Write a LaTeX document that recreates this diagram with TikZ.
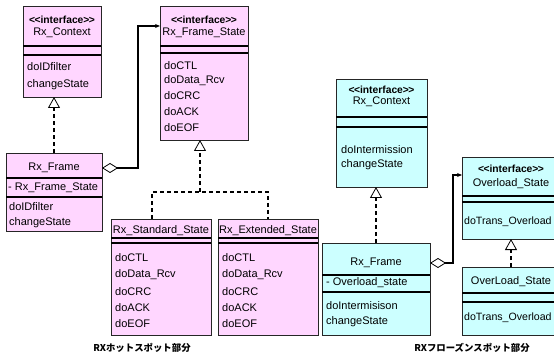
\documentclass[tikz,border=0pt]{standalone}
\usepackage{fontspec}
\setmainfont{Liberation Sans}
\newfontfamily\cjk{Noto Sans CJK JP}
\usetikzlibrary{arrows.meta}
\definecolor{pinkfill}{RGB}{255,214,255}
\definecolor{cyanfill}{RGB}{204,255,255}
\newcommand{\stereotxt}{{<}\kern-0.5pt{<}interface{>}\kern-0.5pt{>}}
\tikzset{
  cls/.style={draw=black!85, line width=0.8pt, anchor=north west, inner sep=0pt, outer sep=0pt},
  pinkcls/.style={cls, fill=pinkfill},
  cyancls/.style={cls, fill=cyanfill},
  sepline/.style={draw=black, line width=1.1pt},
  ttl/.style={font=\fontsize{11}{12}\selectfont, inner sep=0pt, anchor=center},
  stereo/.style={font=\bfseries\fontsize{10.3}{12}\selectfont, inner sep=0pt, anchor=center},
  op/.style={font=\fontsize{11}{12}\selectfont, inner sep=0pt, anchor=west},
  opsmall/.style={font=\fontsize{10.6}{12}\selectfont, inner sep=0pt, anchor=west},
  realize/.style={line width=1.6pt, dash pattern=on 4pt off 3pt,
    -{Triangle[open, length=11pt, width=12pt, line width=0.8pt]}},
  aggr/.style={line width=1.6pt,
    {Diamond[open, length=16pt, width=10pt, line width=0.8pt, fill=white]}-{Stealth[length=5pt, width=4pt]}},
  partlabel/.style={font=\cjk\bfseries\fontsize{9.4}{10}\selectfont, inner sep=0pt}
}
\begin{document}
\begin{tikzpicture}[x=1pt, y=-1pt]
\useasboundingbox (0,0) rectangle (554,358);
\clip (0,0) rectangle (554,358);
\fill[white] (0,0) rectangle (554,358);

% ---------- left (pink) ----------
% Rx_Context interface
\node[pinkcls, minimum width=78pt, minimum height=91pt] (pc) at (23,6) {};
\draw[sepline] (23,46) -- (101,46);
\draw[sepline] (23,55) -- (101,55);
\node[stereo] (pc1) at (62,20) {\stereotxt};
\node[ttl] (pc2) at (62,33) {Rx\_Context};
\node[op] (pc3) at (27,67) {doIDfilter};
\node[op] (pc4) at (27,85) {changeState};

% Rx_Frame_State interface
\node[pinkcls, minimum width=88pt, minimum height=134pt] (fs) at (160,6) {};
\draw[sepline] (160,46) -- (248,46);
\draw[sepline] (160,53) -- (248,53);
\node[stereo] (fs1) at (204,20) {\stereotxt};
\node[ttl] (fs2) at (204,33) {Rx\_Frame\_State};
\node[op] (fs3) at (164,66) {doCTL};
\node[op] (fs4) at (164,81) {doData\_Rcv};
\node[op] (fs5) at (164,96) {doCRC};
\node[op] (fs6) at (164,112) {doACK};
\node[op] (fs7) at (164,128) {doEOF};

% Rx_Frame
\node[pinkcls, minimum width=96pt, minimum height=78pt] (pf) at (6,153) {};
\draw[sepline] (6,178) -- (102,178);
\draw[sepline] (6,197) -- (102,197);
\node[ttl] (pf1) at (54,168) {Rx\_Frame};
\node[op] (pf2) at (8,188) {- Rx\_Frame\_State};
\node[op] (pf3) at (9,207) {doIDfilter};
\node[op] (pf4) at (9,223) {changeState};

% Rx_Standard_State
\node[pinkcls, minimum width=100pt, minimum height=116pt] (ss) at (111,219) {};
\draw[sepline] (111,238) -- (211,238);
\draw[sepline] (111,243) -- (211,243);
\node[ttl] (ss1) at (161,231) {Rx\_Standard\_State};
\node[op] (ss2) at (115,258) {doCTL};
\node[op] (ss3) at (115,275) {doData\_Rcv};
\node[op] (ss4) at (115,292) {doCRC};
\node[op] (ss5) at (115,308) {doACK};
\node[op] (ss6) at (115,324) {doEOF};

% Rx_Extended_State
\node[pinkcls, minimum width=100pt, minimum height=116pt] (es) at (218,219) {};
\draw[sepline] (218,238) -- (318,238);
\draw[sepline] (218,243) -- (318,243);
\node[ttl] (es1) at (268,231) {Rx\_Extended\_State};
\node[op] (es2) at (222,258) {doCTL};
\node[op] (es3) at (222,275) {doData\_Rcv};
\node[op] (es4) at (222,292) {doCRC};
\node[op] (es5) at (222,308) {doACK};
\node[op] (es6) at (222,324) {doEOF};

% connectors (pink)
\draw[realize] (pf.north) -- (pc.south -| pf.north);
\coordinate (jl) at (152,192);
\coordinate (jm) at (200,192);
\coordinate (jr) at (268,192);
\draw[line width=1.6pt, dash pattern=on 4pt off 3pt] (ss.north -| jl) -- (jl) -- (jr) -- (es.north -| jr);
\draw[realize] (jm) -- (fs.south -| jm);
\coordinate (ap) at (138,26);
\draw[aggr] ([yshift=-15pt]pf.north east) -| (ap) -- (fs.west |- ap);

\node[partlabel] (lab1) at (142,348) {RXホットスポット部分};

% ---------- right (cyan) ----------
\node[cyancls, minimum width=91pt, minimum height=108pt] (cc) at (336,79) {};
\draw[sepline] (336,117) -- (427,117);
\draw[sepline] (336,127) -- (427,127);
\node[stereo] (cc1) at (381.5,90) {\stereotxt};
\node[ttl] (cc2) at (381.5,102) {Rx\_Context};
\node[op] (cc3) at (341,150) {doIntermission};
\node[op] (cc4) at (341,165) {changeState};

\node[cyancls, minimum width=108pt, minimum height=92pt] (cf) at (322,243) {};
\draw[sepline] (322,275) -- (430,275);
\draw[sepline] (322,292) -- (430,292);
\node[ttl] (cf1) at (376,263) {Rx\_Frame};
\node[op] (cf2) at (326,283) {- Overload\_state};
\node[op] (cf3) at (326,306) {doIntermisison};
\node[op] (cf4) at (326,322) {changeState};

\node[cyancls, minimum width=98pt, minimum height=82pt] (os) at (462,157) {};
\draw[sepline] (462,196) -- (560,196);
\draw[sepline] (462,202) -- (560,202);
\node[stereo] (os1) at (511,169) {\stereotxt};
\node[ttl] (os2) at (511,184) {Overload\_State};
\node[opsmall] (os3) at (464,222) {doTrans\_Overload};

\node[cyancls, minimum width=98pt, minimum height=68pt] (ol) at (462,267) {};
\draw[sepline] (462,293) -- (560,293);
\draw[sepline] (462,302) -- (560,302);
\node[ttl] (ol1) at (511,282) {OverLoad\_State};
\node[opsmall] (ol2) at (464,318) {doTrans\_Overload};

\draw[realize] (cf.north) -- (cc.south -| cf.north);
\draw[realize] (ol.north) -- (os.south);
\coordinate (ac) at (453,175);
\draw[aggr] ([yshift=-20pt]cf.north east) -| (ac) -- (os.west |- ac);

\node[partlabel] (lab2) at (472,348) {RXフローズンスポット部分};
\end{tikzpicture}
\end{document}
